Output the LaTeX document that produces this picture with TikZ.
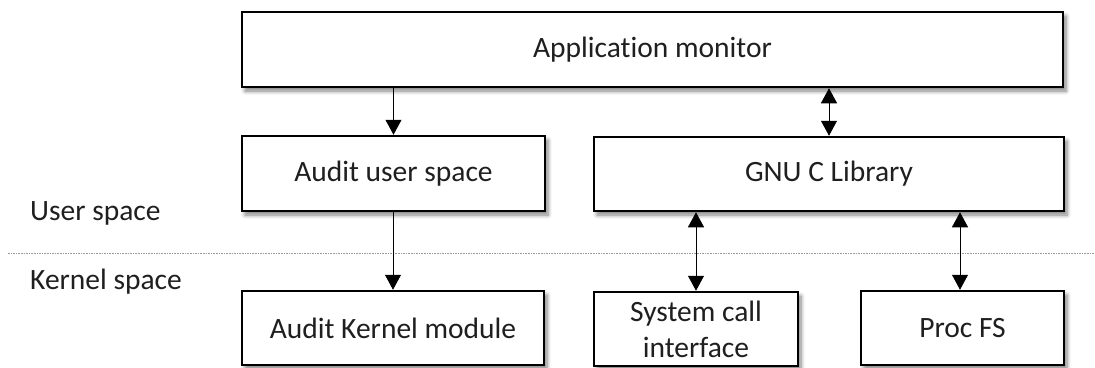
\documentclass[tikz,border=0pt]{standalone}
\usepackage{fontspec}
\setmainfont{Carlito}[Ligatures=NoCommon]
\usetikzlibrary{arrows.meta,shadows.blur}

\begin{document}
\begin{tikzpicture}[x=1pt,y=-1pt,
  block/.style={draw=black, line width=2.5pt, fill=white, inner sep=2pt,
    align=center, text=black!88, font=\fontsize{29.5}{36}\selectfont,
    blur shadow={shadow xshift=3pt, shadow yshift=-4pt, shadow blur steps=6,
      shadow blur radius=4pt, shadow opacity=50}},
  flow/.style={line width=0.9pt, -{Triangle[length=15pt,width=16pt]}},
  both/.style={line width=0.9pt, {Triangle[length=15pt,width=16pt]}-{Triangle[length=15pt,width=16pt]}},
  layer/.style={anchor=west, inner sep=0pt, text=black!88, font=\fontsize{29.5}{36}\selectfont},
  divider/.style={draw=black!40, line width=0.8pt, dash pattern=on 1.6pt off 1pt}
]
\useasboundingbox (0,0) rectangle (1095,367);

% user space blocks
\node[block, minimum width=821pt, minimum height=75pt] (app) at (652.5,49.5) {Application monitor};
\node[block, minimum width=303pt, minimum height=75pt] (aus) at (393.5,173.5) {Audit user space};
\node[block, minimum width=470pt, minimum height=74pt] (gnu) at (829,174) {GNU C Library};

% kernel space blocks
\node[block, minimum width=302pt, minimum height=74pt] (akm) at (393,328) {Audit Kernel module};
\node[block, minimum width=204pt, minimum height=74pt] (sci) at (696,329) {System call\\interface};
\node[block, minimum width=203pt, minimum height=74pt] (pfs) at (962.5,328) {Proc FS};

% boundary between the two layers
\coordinate (divL) at (8,253);
\coordinate (divR) at (1095,253);
\draw[divider] (divL) -- (divR);
\node[layer] (us) at (30,213) {User space};
\node[layer] (ks) at (30,282) {Kernel space};

% connectors
\draw[flow] (aus.north |- app.south) -- (aus.north);
\draw[flow] (akm.north |- aus.south) -- (akm.north);
\draw[both] (gnu.north |- app.south) -- (gnu.north);
\draw[both] (sci.north |- gnu.south) -- (sci.north);
\draw[both] ([xshift=-2.5pt]pfs.north |- gnu.south) -- ([xshift=-2.5pt]pfs.north);
\end{tikzpicture}
\end{document}
